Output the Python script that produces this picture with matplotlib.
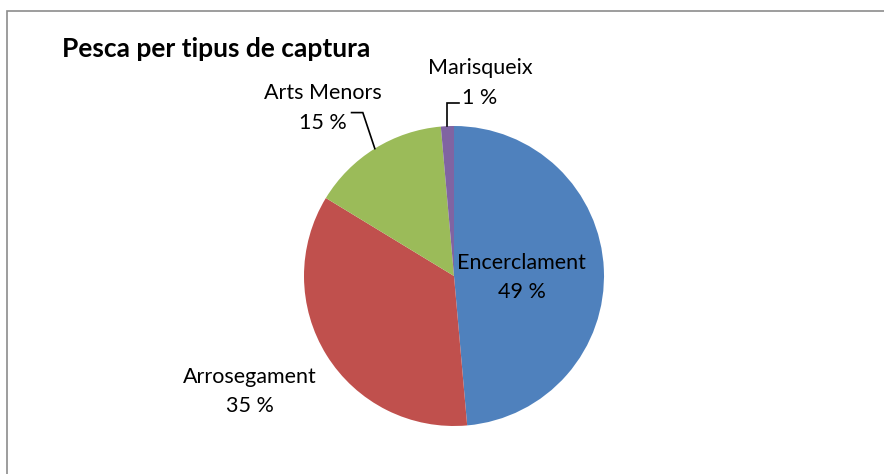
import matplotlib
matplotlib.use("Agg")
import matplotlib.pyplot as plt
from matplotlib.patches import Rectangle
import numpy as np

categories = ["Encerclament", "Arrosegament", "Arts Menors", "Marisqueix"]
values = [48.6, 35.1, 14.9, 1.4]
colors = ["#4F81BD", "#C0504D", "#9BBB59", "#8064A2"]
title = "Pesca per tipus de captura"

plt.rcParams['font.family'] = ['Lato', 'DejaVu Sans']

W, H = 884, 474
fig = plt.figure(figsize=(W / 100, H / 100), dpi=100)
fig.patch.set_facecolor("white")

# outer frame (cropped on right and bottom)
fig.patches.append(Rectangle((7 / W, -0.1), 1.2, 1 - 11 / H + 0.1, transform=fig.transFigure,
                             fill=False, edgecolor="#8C8C8C", linewidth=1.2))

cx, cy, r = 454, H - 276, 150
ax = fig.add_axes([(cx - r) / W, (cy - r) / H, 2 * r / W, 2 * r / H])
wedges, _ = ax.pie(values, colors=colors, startangle=90, counterclock=False, radius=1,
                   wedgeprops=dict(linewidth=0))
ax.set_xlim(-1, 1)
ax.set_ylim(-1, 1)
ax.set_aspect("equal")
ax.axis("off")

labels = [f"{c}\n{v:.0f} %" for c, v in zip(categories, values)]
label_pos = [(0.45, -0.01), (-1.36, -0.77), (-0.873, 1.12), (0.173, 1.287)]
for lab, (x, y) in zip(labels, label_pos):
    ax.text(x, y, lab, ha="center", va="center", fontsize=15.5, color="black",
            linespacing=1.6, clip_on=False)

# leader lines
def mid_point(w):
    a = np.deg2rad((w.theta1 + w.theta2) / 2)
    return np.cos(a), np.sin(a)

px, py = mid_point(wedges[2])
ax.plot([px, px - 0.08, px - 0.155], [py, py + 0.24, py + 0.24], color="black", lw=1.2,
        clip_on=False, solid_joinstyle="miter")
px, py = mid_point(wedges[3])
ax.plot([px, px, px + 0.075], [py, py + 0.155, py + 0.155], color="black", lw=1.2,
        clip_on=False, solid_joinstyle="miter")

fig.text(62 / W, 1 - 49 / H, title, ha="left", va="center", fontsize=19,
         fontweight="bold", color="black")

fig.savefig("out.png", dpi=100)
